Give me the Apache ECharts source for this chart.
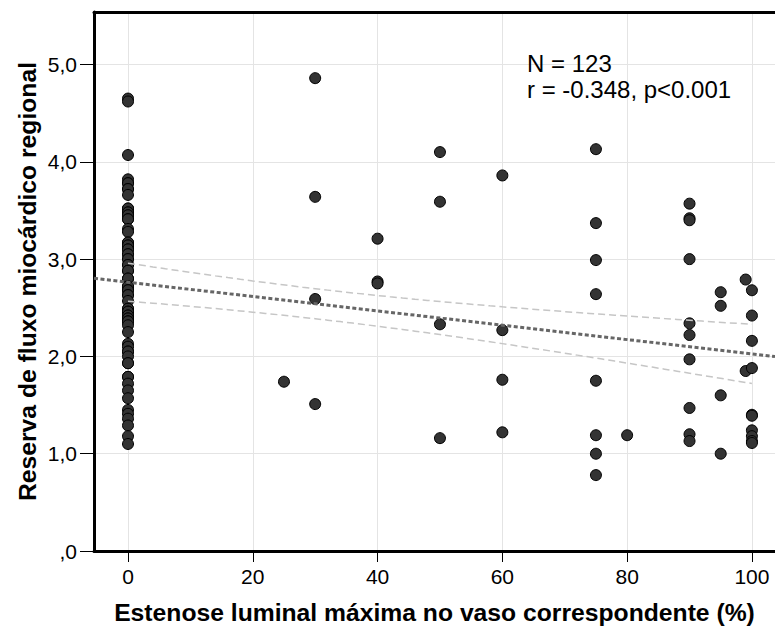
<!DOCTYPE html>
<html><head><meta charset="utf-8">
<script src="https://cdn.jsdelivr.net/npm/echarts@6/dist/echarts.min.js"></script>
<style>html,body{margin:0;padding:0;background:#fff}#c{width:775px;height:630px}</style>
</head><body><div id="c"></div>
<script>
// Stenosis levels (%) and regional myocardial flow reserve
const stenosisLevels = [0, 25, 30, 40, 50, 60, 75, 80, 90, 95, 99, 100];
const flow0 = [4.65, 4.62, 4.07, 3.82, 3.78, 3.78, 3.72, 3.72, 3.66, 3.52, 3.52, 3.48, 3.48,
  3.45, 3.45, 3.41, 3.41, 3.31, 3.28, 3.17, 3.17, 3.14, 3.14, 3.10, 3.10, 3.05, 3.05, 3.00, 3.00,
  2.94, 2.94, 2.88, 2.88, 2.80, 2.80, 2.72, 2.72, 2.68, 2.68, 2.63, 2.63, 2.57, 2.49, 2.49, 2.46,
  2.46, 2.42, 2.42, 2.39, 2.39, 2.36, 2.36, 2.32, 2.25, 2.13, 2.10, 2.05, 2.05, 2.00, 1.93, 1.93,
  1.79, 1.79, 1.72, 1.65, 1.57, 1.45, 1.41, 1.36, 1.29, 1.18, 1.10];
const flow25 = [1.74];
const flow30 = [4.86, 3.64, 2.59, 1.51];
const flow40 = [3.21, 2.77, 2.75];
const flow50 = [4.10, 3.59, 2.33, 1.16];
const flow60 = [3.86, 2.27, 1.76, 1.22];
const flow75 = [4.13, 3.37, 2.99, 2.64, 1.75, 1.19, 1.00, 0.78];
const flow80 = [1.19];
const flow90 = [3.57, 3.42, 3.40, 3.00, 2.34, 2.22, 1.97, 1.47, 1.20, 1.13];
const flow95 = [2.66, 2.52, 1.60, 1.00];
const flow99 = [2.79, 1.85];
const flow100 = [2.68, 2.42, 2.16, 1.88, 1.40, 1.39, 1.24, 1.18, 1.13, 1.11];
const flowByLevel = [flow0, flow25, flow30, flow40, flow50, flow60, flow75, flow80, flow90, flow95, flow99, flow100];

const xTickValues = [0, 20, 40, 60, 80, 100];
const xTickLabels = ['0', '20', '40', '60', '80', '100'];
const yTickValues = [0, 1, 2, 3, 4, 5];
const yTickLabels = [',0', '1,0', '2,0', '3,0', '4,0', '5,0'];
const xAxisTitle = 'Estenose luminal máxima no vaso correspondente (%)';
const yAxisTitle = 'Reserva de fluxo miocárdico regional';
const statText = 'r = -0.348, p<0.001';
const tCrit = 1.98; // t(0.975, df=121)

// build points
const points = [];
stenosisLevels.forEach((x, i) => flowByLevel[i].forEach(y => points.push([x, y])));
const n = points.length;

// least-squares fit and 95% CI of the mean
let sx = 0, sy = 0;
points.forEach(p => { sx += p[0]; sy += p[1]; });
const mx = sx / n, my = sy / n;
let sxx = 0, sxy = 0;
points.forEach(p => { sxx += (p[0] - mx) ** 2; sxy += (p[0] - mx) * (p[1] - my); });
const slope = sxy / sxx, intercept = my - slope * mx;
let sse = 0;
points.forEach(p => { sse += (p[1] - (intercept + slope * p[0])) ** 2; });
const se = Math.sqrt(sse / (n - 2));

const X_MIN = -5.45, X_MAX = 103.7, Y_MIN = 0, Y_MAX = 5.54;
const fitLine = [X_MIN, X_MAX].map(x => [x, intercept + slope * x]);
const xDataMin = Math.min(...stenosisLevels), xDataMax = Math.max(...stenosisLevels);
const ciUpper = [], ciLower = [];
for (let k = 0; k <= 50; k++) {
  const x = xDataMin + (xDataMax - xDataMin) * k / 50;
  const h = tCrit * se * Math.sqrt(1 / n + (x - mx) ** 2 / sxx);
  const yh = intercept + slope * x;
  ciUpper.push([x, yh + h]);
  ciLower.push([x, yh - h]);
}

const FONT = '"Liberation Sans", Arial, sans-serif';
const chart = echarts.init(document.getElementById('c'), null, { renderer: 'svg' });
chart.setOption({
  animation: false,
  grid: { left: 94, right: 0, top: 12, bottom: 76.5 },
  xAxis: [{
    type: 'value', min: X_MIN, max: X_MAX, position: 'bottom',
    name: xAxisTitle, nameLocation: 'middle', nameGap: 49, nameMoveOverlap: false,
    nameTextStyle: { fontSize: 24.7, fontWeight: 'bold', color: '#000', fontFamily: FONT },
    axisLine: { show: true, onZero: false, lineStyle: { color: '#000', width: 3 } },
    axisTick: { show: true, customValues: xTickValues, length: 11, lineStyle: { color: '#000', width: 1 } },
    axisLabel: { customValues: xTickValues, formatter: v => xTickLabels[xTickValues.indexOf(v)] ?? '',
      fontSize: 21, color: '#000', fontFamily: FONT, margin: 15 },
    splitLine: { show: true, lineStyle: { color: '#e4e4e4', width: 1 } }
  }, {
    type: 'value', min: X_MIN, max: X_MAX, position: 'top',
    axisLine: { show: true, onZero: false, lineStyle: { color: '#000', width: 3 } },
    axisTick: { show: false }, axisLabel: { show: false }, splitLine: { show: false }
  }],
  yAxis: {
    type: 'value', min: Y_MIN, max: Y_MAX,
    name: yAxisTitle, nameLocation: 'middle', nameGap: 54, nameMoveOverlap: false,
    nameTextStyle: { fontSize: 24.7, fontWeight: 'bold', color: '#000', fontFamily: FONT },
    axisLine: { show: true, onZero: false, lineStyle: { color: '#000', width: 3 } },
    axisTick: { show: true, customValues: yTickValues, length: 14, lineStyle: { color: '#000', width: 1 } },
    axisLabel: { customValues: yTickValues, formatter: v => yTickLabels[yTickValues.indexOf(v)] ?? '',
      fontSize: 21, color: '#000', fontFamily: FONT, margin: 17 },
    splitLine: { show: true, lineStyle: { color: '#e4e4e4', width: 1 } }
  },
  graphic: [{
    type: 'text', left: 527, top: 50, z: 10,
    style: { text: 'N = ' + n + '\n' + statText, fontSize: 24, fontFamily: FONT, fill: '#000', lineHeight: 26 }
  }],
  series: [
    { type: 'scatter', data: points, symbol: 'circle', symbolSize: 11, z: 2,
      itemStyle: { color: '#333333', borderColor: '#000', borderWidth: 1, opacity: 1 } },
    { type: 'line', data: ciUpper, symbol: 'none', z: 3, silent: true,
      lineStyle: { color: '#c6c6c6', width: 1.5, type: [7, 4] } },
    { type: 'line', data: ciLower, symbol: 'none', z: 3, silent: true,
      lineStyle: { color: '#c6c6c6', width: 1.5, type: [7, 4] } },
    { type: 'line', data: fitLine, symbol: 'none', z: 4, silent: true,
      lineStyle: { color: '#666666', width: 3, type: [4, 2.5] } }
  ]
});
</script></body></html>
